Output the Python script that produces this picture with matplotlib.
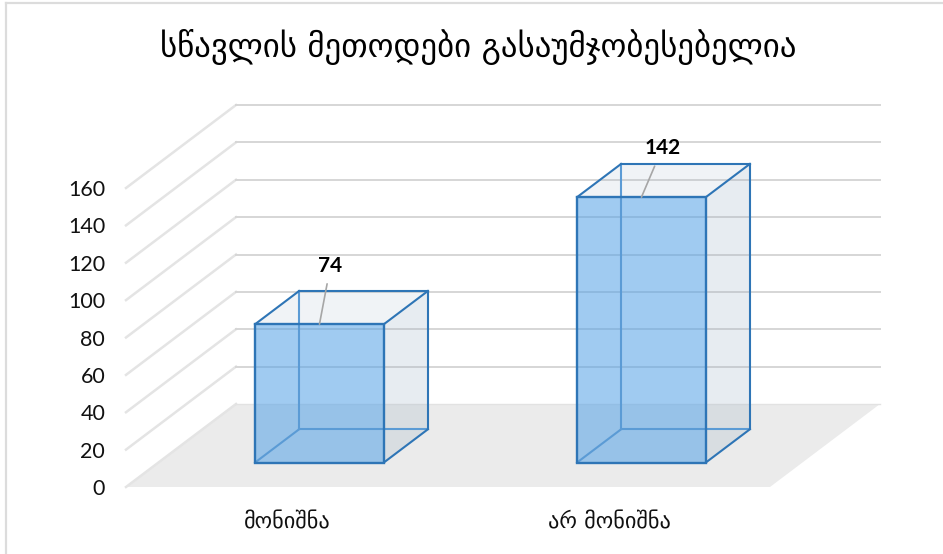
import matplotlib
matplotlib.use("Agg")
import matplotlib.pyplot as plt
from matplotlib.patches import Polygon

categories = ["მონიშნა", "არ მონიშნა"]
values = [74, 142]
y_ticks = [0, 20, 40, 60, 80, 100, 120, 140, 160]
title = "სწავლის მეთოდები გასაუმჯობესებელია"

W, H = 943, 554
# front plane of the chart in pixels
LEFT, RIGHT, BOTTOM, TOP = 126, 770, 487, 188
YMAX = 160
# how far the back wall sits from the front plane, in data units
DEPTH_X = 110 / (RIGHT - LEFT) * len(categories)
DEPTH_Y = 83 / (BOTTOM - TOP) * YMAX
BAR_W = 0.4
T0, T1 = 0.295, 0.695  # bar start/end along the depth


def proj(x, y, t=0.0):
    return (x + DEPTH_X * t, y + DEPTH_Y * t)


fig = plt.figure(figsize=(W / 100, H / 100), dpi=100)
ax = fig.add_axes([LEFT / W, 1 - BOTTOM / H, (RIGHT - LEFT) / W, (BOTTOM - TOP) / H])
ax.set_xlim(0, len(categories))
ax.set_ylim(0, YMAX)
ax.patch.set_visible(False)
for s in ax.spines.values():
    s.set_visible(False)

# frame of the picture, only left and top are inside the crop
frame = dict(color="#dcdcdc", lw=1.6, transform=fig.transFigure, clip_on=False)
fig.add_artist(plt.Line2D([6 / W, 6 / W], [0, 1 - 2.5 / H], **frame))
fig.add_artist(plt.Line2D([6 / W, 1], [1 - 2.5 / H, 1 - 2.5 / H], **frame))

# floor
n = len(categories)
ax.add_patch(Polygon([proj(0, 0), proj(n, 0), proj(n, 0, 1), proj(0, 0, 1)],
                     fc="#ebebeb", ec="none", clip_on=False, zorder=1))

# walls grid
for v in y_ticks:
    pts = [proj(0, v), proj(0, v, 1), proj(n, v, 1)]
    xs, ys = zip(*pts)
    ax.plot(xs[:2], ys[:2], color="#e4e4e4", lw=1.8, clip_on=False, zorder=2)
    if v > 0:
        ax.plot(xs[1:], ys[1:], color="#d6d6d6", lw=1.4, clip_on=False, zorder=2)
    else:
        ax.plot(xs[1:], ys[1:], color="#e2e2e2", lw=1.0, clip_on=False, zorder=2)

BLUE = "#2e75b6"
REAR = "#5b9bd5"
for i, val in enumerate(values):
    x0 = i + 0.5 - BAR_W / 2
    x1 = i + 0.5 + BAR_W / 2
    fbl, fbr = proj(x0, 0, T0), proj(x1, 0, T0)
    ftl, ftr = proj(x0, val, T0), proj(x1, val, T0)
    bbl, bbr = proj(x0, 0, T1), proj(x1, 0, T1)
    btl, btr = proj(x0, val, T1), proj(x1, val, T1)

    ax.add_patch(Polygon([fbr, bbr, btr, ftr], fc="#9bafc3", alpha=0.23, ec="none", clip_on=False, zorder=3))
    ax.add_patch(Polygon([ftl, ftr, btr, btl], fc="#9bafc3", alpha=0.15, ec="none", clip_on=False, zorder=3))
    ax.add_patch(Polygon([fbl, fbr, ftr, ftl], fc="#53a1e6", alpha=0.55, ec="none", clip_on=False, zorder=4))

    # rear edges show through the front face
    for a, b in [(bbl, btl), (bbl, bbr), (fbl, bbl)]:
        ax.plot([a[0], b[0]], [a[1], b[1]], color=REAR, lw=1.5, clip_on=False, zorder=5)
    for a, b in [(bbr, btr), (btl, btr), (ftl, btl), (ftr, btr), (fbr, bbr)]:
        ax.plot([a[0], b[0]], [a[1], b[1]], color=BLUE, lw=1.5, clip_on=False, zorder=5)
    ax.add_patch(Polygon([fbl, fbr, ftr, ftl], fc="none", ec=BLUE, lw=1.7, clip_on=False, zorder=6))

# value labels with leader lines
label_off = [(8, 35), (15, 28)]
for i, val in enumerate(values):
    ax.annotate(str(val), xy=proj(i + 0.5, val, T0), xytext=label_off[i], textcoords="offset points",
                ha="center", va="bottom", fontsize=15, fontweight="bold", family="Lato", color="black",
                annotation_clip=False, zorder=7,
                arrowprops=dict(arrowstyle="-", color="#a6a6a6", lw=1.2, shrinkA=4, shrinkB=0))

ax.set_yticks(y_ticks)
ax.set_yticklabels([str(v) for v in y_ticks], fontsize=15.5, family="Lato", color="#111111")
ax.set_xticks([i + 0.5 for i in range(n)])
ax.set_xticklabels(categories, fontsize=16, family="DejaVu Sans", color="#111111")
ax.tick_params(axis="y", length=0, pad=15)
ax.tick_params(axis="x", length=0, pad=18)

fig.text(478.5 / W, 1 - 47 / H, title, ha="center", va="center", fontsize=23.7,
         family="DejaVu Sans", color="black")

fig.savefig("out.png", dpi=100)
